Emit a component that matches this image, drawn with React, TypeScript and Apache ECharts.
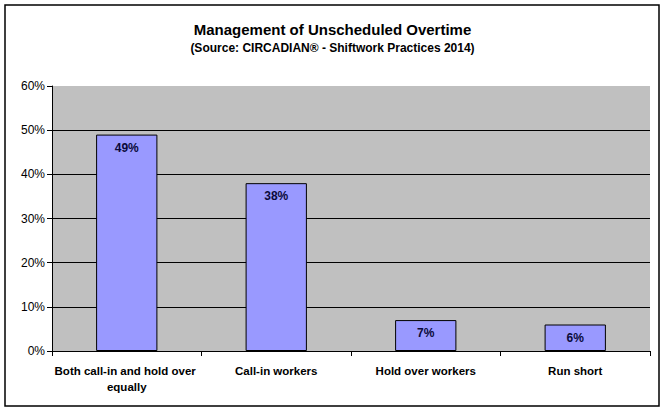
import React, { useEffect, useRef } from "react";
import * as echarts from "echarts";

const categories = [
  "Both call-in and hold over equally",
  "Call-in workers",
  "Hold over workers",
  "Run short",
];
const shares = [49, 38, 7, 6];
const yTicks = [0, 10, 20, 30, 40, 50, 60];

const titleText = "Management of Unscheduled Overtime";
const subText = "(Source: CIRCADIAN\u00ae - Shiftwork Practices 2014)";

export default function App() {
  const chartRef = useRef<HTMLDivElement>(null);

  useEffect(() => {
    document.body.style.margin = "0";
    if (!chartRef.current) return;
    const chart = echarts.init(chartRef.current, undefined, { renderer: "svg" });

    const font = "Arial, 'Liberation Sans', sans-serif";
    // the top gridline (60%) is not drawn in the original, only the grey edge
    const splitColors = yTicks.map((t, i) =>
      i === yTicks.length - 1 ? "#C0C0C0" : "#000000"
    );

    chart.setOption({
      animation: false,
      backgroundColor: "#ffffff",
      title: {
        text: titleText,
        subtext: subText,
        left: "center",
        top: 17,
        itemGap: 5,
        textStyle: {
          fontFamily: font,
          fontSize: 15,
          fontWeight: "bold",
          color: "#000",
        },
        subtextStyle: {
          fontFamily: font,
          fontSize: 12,
          fontWeight: "bold",
          color: "#000",
        },
      },
      grid: {
        left: 52,
        right: 15,
        top: 86,
        bottom: 61,
        show: true,
        backgroundColor: "#C0C0C0",
        borderWidth: 0,
      },
      xAxis: {
        type: "category",
        data: categories,
        axisLine: { show: true, lineStyle: { color: "#000", width: 1 } },
        axisTick: { show: true, inside: false, length: 5, lineStyle: { color: "#000" } },
        axisLabel: {
          fontFamily: font,
          fontSize: 11.5,
          fontWeight: "bold",
          color: "#000",
          margin: 12,
          width: 146,
          overflow: "break",
          lineHeight: 16,
          interval: 0,
        },
      },
      yAxis: {
        type: "value",
        min: 0,
        max: 60,
        interval: 10,
        axisLine: { show: true, lineStyle: { color: "#000", width: 1 } },
        axisTick: { show: true, inside: false, length: 5, lineStyle: { color: "#000" } },
        axisLabel: {
          fontFamily: font,
          fontSize: 12,
          color: "#000",
          margin: 7,
          formatter: "{value}%",
        },
        splitLine: { show: true, lineStyle: { color: splitColors, width: 1 } },
      },
      series: [
        {
          type: "bar",
          data: shares,
          barWidth: "41%",
          itemStyle: { color: "#9999FF", borderColor: "#000", borderWidth: 1 },
          label: {
            show: true,
            position: "insideTop",
            distance: 7,
            formatter: "{c}%",
            fontFamily: font,
            fontSize: 12,
            fontWeight: "bold",
            color: "#0a0a3a",
          },
        },
      ],
      graphic: [
        {
          type: "rect",
          shape: { x: 5, y: 5, width: 654, height: 401 },
          style: { fill: "none", stroke: "#000", lineWidth: 1.5 },
          silent: true,
        },
      ],
    });

    return () => {
      chart.dispose();
    };
  }, []);

  return <div ref={chartRef} style={{ width: 665, height: 412 }} />;
}
